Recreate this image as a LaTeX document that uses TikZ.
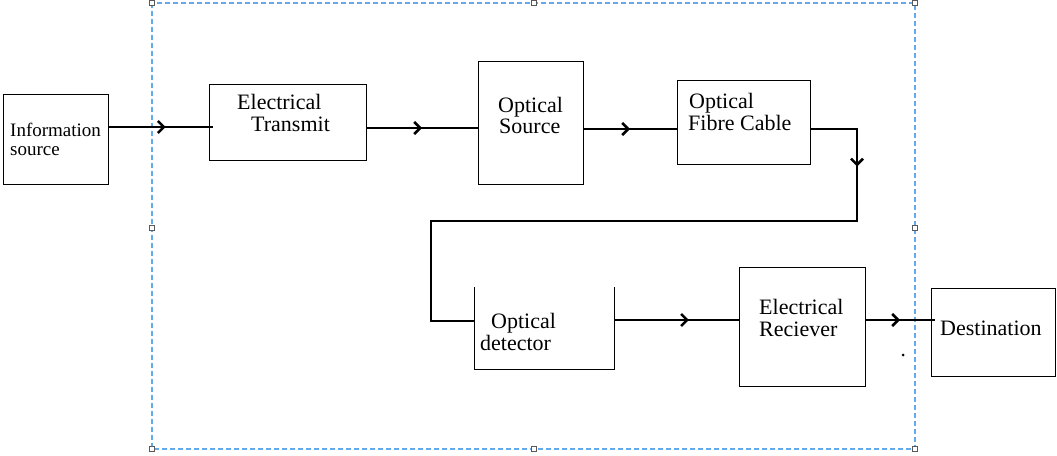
\documentclass[tikz,border=0pt]{standalone}
\usepackage{fontspec}
\setmainfont{Liberation Serif}
\usetikzlibrary{arrows.meta,decorations.markings}
\definecolor{selblue}{RGB}{100,170,235}
\tikzset{
	box/.style={draw, line width=1pt, rectangle, inner sep=0pt},
	txt/.style={anchor=base west, inner sep=0pt, font=\fontsize{22}{26}\selectfont},
	conn/.style={line width=2.5pt},
	midarrow/.style={postaction={decorate}, decoration={markings,
		mark=at position #1 with {\arrow{Straight Barb[length=6pt, width=12pt, line width=2.5pt]}}}},
	handle/.style={draw=gray!70!black, fill=white, line width=0.8pt, minimum size=5pt, inner sep=0pt},
}
\begin{document}
\begin{tikzpicture}[x=1pt, y=-1pt]
			\useasboundingbox (0,0) rectangle (1057,455);
			% selection frame
			\draw[dash pattern=on 5pt off 3pt, line width=1.2pt, selblue] (152,3) rectangle (915,449);
			\foreach \hx/\hy in {152/3, 534/3, 915/3, 152/228, 915/228, 152/449, 534/449, 915/449}
				\node[handle] at (\hx,\hy) {};
			% blocks
			\node[box, minimum width=105pt, minimum height=90pt] (info) at (55.5,139) {};
			\node[box, minimum width=157pt, minimum height=76pt] (etx) at (287.5,122) {};
			\node[box, minimum width=105pt, minimum height=123pt] (osrc) at (530.5,122.5) {};
			\node[box, minimum width=133pt, minimum height=84pt] (ofc) at (743.5,122) {};
			\node[inner sep=0pt, minimum width=139pt, minimum height=82pt] (det) at (544.5,328) {};
			\draw[line width=1pt] (det.north west) -- (det.south west) -- (det.south east) -- (det.north east);
			\node[box, minimum width=126pt, minimum height=119pt] (erx) at (802,326.5) {};
			\node[box, minimum width=124pt, minimum height=88pt] (dest) at (993,332) {};
			% labels
			\node[txt, font=\fontsize{19}{22}\selectfont] (infoA) at (10,136) {Information};
			\node[txt, font=\fontsize{19}{22}\selectfont] (infoB) at (10,155) {source};
			\node[txt] (etxA) at (237,109) {Electrical};
			\node[txt] (etxB) at (251,131) {Transmit};
			\node[txt] (osrcA) at (498,112) {Optical};
			\node[txt] (osrcB) at (499,133) {Source};
			\node[txt] (ofcA) at (689,108) {Optical};
			\node[txt] (ofcB) at (688,130) {Fibre Cable};
			\node[txt] (detA) at (491,328) {Optical};
			\node[txt] (detB) at (480,350) {detector};
			\node[txt] (erxA) at (759,314) {Electrical};
			\node[txt] (erxB) at (759,336) {Reciever};
			\node[txt] (destA) at (940,335) {Destination};
			% links
			\coordinate (dn) at (857,221);
			\coordinate (lf) at (431,221);
			\draw[conn, midarrow=0.55] (info.east |- 0,127) -- ([xshift=4pt]etx.west |- 0,127);
			\draw[conn, midarrow=0.5] (etx.east |- 0,128) -- (osrc.west |- 0,128);
			\draw[conn, midarrow=0.5] (osrc.east |- 0,129) -- (ofc.west |- 0,129);
			\draw[conn, midarrow=84pt] (ofc.east |- 0,129) -| (dn) -- (lf) |- (det.west |- 0,321);
			\draw[conn, midarrow=0.6] (det.east |- 0,320) -- (erx.west |- 0,320);
			\draw[conn, midarrow=0.5] (erx.east |- 0,320) -- ([xshift=4pt]dest.west |- 0,320);
			\fill (903,355) circle (1.5pt);
		\end{tikzpicture}
\end{document}
